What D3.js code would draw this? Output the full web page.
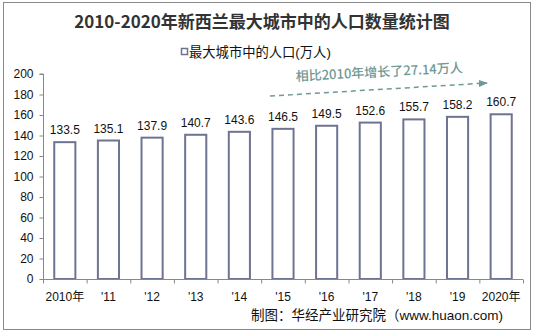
<!DOCTYPE html>
<html>
<head>
<meta charset="utf-8">
<script src="https://cdn.jsdelivr.net/npm/d3@7/dist/d3.min.js"></script>
<style>
  html, body { margin: 0; padding: 0; background: #fff; }
  svg { display: block; }
</style>
</head>
<body>
<svg id="chart" width="535" height="335"></svg>
<script>
// data
const years  = ['2010年', "'11", "'12", "'13", "'14", "'15", "'16", "'17", "'18", "'19", '2020年'];
const values = [133.5, 135.1, 137.9, 140.7, 143.6, 146.5, 149.5, 152.6, 155.7, 158.2, 160.7];
const yTicks = [0, 20, 40, 60, 80, 100, 120, 140, 160, 180, 200];

const W = 535, H = 335;
const svg = d3.select('#chart');
const BAR = '#6e7391';
const sans = 'Arial, "Liberation Sans", "Noto Sans CJK SC", sans-serif';

// outer frame
svg.append('rect')
  .attr('x', 3.5).attr('y', 2.5).attr('width', 527).attr('height', 327)
  .attr('fill', '#fff').attr('stroke', '#8a8a8a').attr('stroke-width', 1);

// title
svg.append('text')
  .attr('x', 262).attr('y', 28)
  .attr('text-anchor', 'middle')
  .attr('font-family', '"Noto Sans CJK SC", serif')
  .attr('font-weight', 'bold')
  .attr('font-size', 17)
  .attr('fill', '#333')
  .text('2010-2020年新西兰最大城市中的人口数量统计图');

// legend
svg.append('rect')
  .attr('x', 181.5).attr('y', 48.5).attr('width', 6).attr('height', 6)
  .attr('fill', '#fff').attr('stroke', BAR).attr('stroke-width', 1.5);
svg.append('text')
  .attr('x', 189).attr('y', 57)
  .attr('font-family', sans).attr('font-size', 13.3).attr('fill', '#111')
  .text('最大城市中的人口(万人)');

// scales
const x = d3.scaleBand().domain(years).range([43, 523]).paddingInner(0.47).paddingOuter(0.235);
const y = d3.scaleLinear().domain([0, 200]).range([279, 74]);

// y axis
const yAxis = svg.append('g')
  .attr('transform', 'translate(43.5,0)')
  .call(d3.axisLeft(y).tickValues(yTicks).tickSize(4).tickPadding(6));
yAxis.select('.domain').attr('stroke', '#888').attr('d', `M-4,${y(200)}H0V${y(0)}`);
yAxis.selectAll('.tick line').attr('stroke', '#888');
yAxis.selectAll('.tick text')
  .attr('font-family', sans).attr('font-size', 12).attr('fill', '#111');

// bars
svg.append('g').selectAll('rect')
  .data(values)
  .enter().append('rect')
  .attr('x', (d, i) => x(years[i]) + 1)
  .attr('y', d => y(d))
  .attr('width', x.bandwidth() - 2)
  .attr('height', d => y(0) - y(d))
  .attr('fill', '#fff')
  .attr('stroke', BAR)
  .attr('stroke-width', 2);

// value labels
svg.append('g').selectAll('text')
  .data(values)
  .enter().append('text')
  .attr('x', (d, i) => x(years[i]) + x.bandwidth() / 2)
  .attr('y', d => y(d) - 8)
  .attr('text-anchor', 'middle')
  .attr('font-family', sans).attr('font-size', 12).attr('fill', '#111')
  .text(d => d.toFixed(1));

// x axis
const step = x.step();
const xAxisG = svg.append('g').attr('transform', `translate(0,${y(0) + 0.5})`);
xAxisG.append('line')
  .attr('x1', 43).attr('x2', 43 + step * years.length)
  .attr('stroke', '#888');
xAxisG.selectAll('line.tk')
  .data(d3.range(years.length + 1))
  .enter().append('line')
  .attr('class', 'tk')
  .attr('x1', i => 43.5 + i * step).attr('x2', i => 43.5 + i * step)
  .attr('y1', 0).attr('y2', 4)
  .attr('stroke', '#888');
xAxisG.selectAll('text')
  .data(years)
  .enter().append('text')
  .attr('x', d => x(d) + x.bandwidth() / 2)
  .attr('y', 21)
  .attr('text-anchor', 'middle')
  .attr('font-family', sans).attr('font-size', 12).attr('fill', '#111')
  .text(d => d);

// annotation: dashed arrow + text
const TEAL = '#6f9995';
svg.append('defs').append('marker')
  .attr('id', 'arr').attr('viewBox', '0 0 10 10')
  .attr('refX', 9).attr('refY', 5)
  .attr('markerWidth', 6).attr('markerHeight', 6)
  .attr('orient', 'auto')
  .append('path').attr('d', 'M0,1L10,5L0,9Z').attr('fill', TEAL);
svg.append('line')
  .attr('x1', 270).attr('y1', 96).attr('x2', 487).attr('y2', 83)
  .attr('stroke', TEAL).attr('stroke-width', 1.5)
  .attr('stroke-dasharray', '5,4')
  .attr('marker-end', 'url(#arr)');
svg.append('text')
  .attr('transform', 'translate(296,81) rotate(-3)')
  .attr('font-family', '"Noto Sans CJK SC", serif')
  .attr('font-weight', 500)
  .attr('font-size', 13).attr('fill', TEAL)
  .text('相比2010年增长了27.14万人');

// source
svg.append('text')
  .attr('x', 503).attr('y', 320)
  .attr('text-anchor', 'end')
  .attr('font-family', sans).attr('font-size', 13.5).attr('fill', '#111')
  .text('制图：华经产业研究院（www.huaon.com)');
</script>
</body>
</html>
